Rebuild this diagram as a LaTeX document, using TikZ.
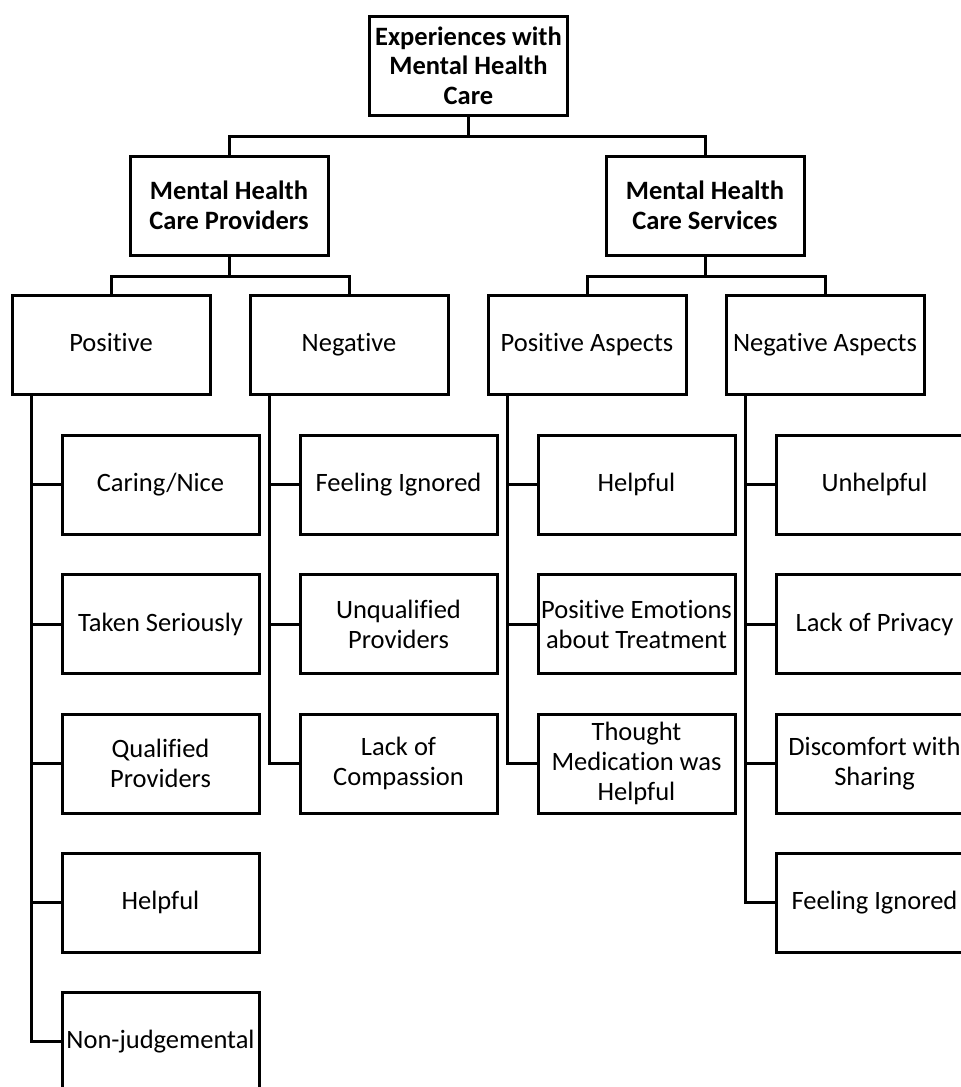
\documentclass[tikz,border=0pt]{standalone}
\usepackage{fontspec}
\setmainfont{Carlito}[Ligatures=NoCommon]
\begin{document}
\begin{tikzpicture}[x=1pt,y=-1pt,
  box/.style={draw,line width=3pt,minimum width=197pt,minimum height=99pt,align=center,inner sep=0pt,font=\fontsize{26.5}{30}\selectfont},
  one/.style={text height=19pt,text depth=5pt},
  head/.style={box,minimum width=198pt,font=\fontsize{26.5}{29.5}\selectfont\bfseries},
  link/.style={line width=3pt}]
\useasboundingbox (0,0) rectangle (961,1087);
\clip (0,0) rectangle (961,1087);
% level 1
\node[head] (top) at (468.5,65.5) {Experiences with\\Mental Health\\Care};
% level 2
\node[head] (prov) at (229,205.5) {Mental Health\\Care Providers};
\node[head] (serv) at (705,205.5) {Mental Health\\Care Services};
% level 3
\node[box,one,minimum width=198pt] (pos) at (111,344.5) {Positive};
\node[box,one,minimum width=198pt] (neg) at (349,344.5) {Negative};
\node[box,one,minimum width=198pt] (posa) at (587,344.5) {Positive Aspects};
\node[box,one,minimum width=198pt] (nega) at (825,344.5) {Negative Aspects};
% children of Positive
\node[box,one] (p1) at (160.5,484.5) {Caring/Nice};
\node[box,one] (p2) at (160.5,624) {Taken Seriously};
\node[box] (p3) at (160.5,763.5) {Qualified\\Providers};
\node[box,one] (p4) at (160.5,902.5) {Helpful};
\node[box,one] (p5) at (160.5,1041.5) {Non-judgemental};
% children of Negative
\node[box,one] (n1) at (398.5,484.5) {Feeling Ignored};
\node[box] (n2) at (398.5,624) {Unqualified\\Providers};
\node[box] (n3) at (398.5,763.5) {Lack of\\Compassion};
% children of Positive Aspects
\node[box,one] (a1) at (636.5,484.5) {Helpful};
\node[box] (a2) at (636.5,624) {Positive Emotions\\about Treatment};
\node[box] (a3) at (636.5,763.5) {Thought\\Medication was\\Helpful};
% children of Negative Aspects
\node[box,one] (b1) at (874.5,484.5) {Unhelpful};
\node[box,one] (b2) at (874.5,624) {Lack of Privacy};
\node[box] (b3) at (874.5,763.5) {Discomfort with\\Sharing};
\node[box,one] (b4) at (874.5,902.5) {Feeling Ignored};
% connectors
\draw[link] (top.south) -- ++(0,20) -| (prov.north);
\draw[link] (top.south) -- ++(0,20) -| (serv.north);
\draw[link] (prov.south) -- ++(0,20) -| (pos.north);
\draw[link] (prov.south) -- ++(0,20) -| (neg.north);
\draw[link] (serv.south) -- ++(0,20) -| (posa.north);
\draw[link] (serv.south) -- ++(0,20) -| (nega.north);
\foreach \c in {p1,p2,p3,p4,p5} \draw[link] ([xshift=21pt]pos.south west) |- (\c.west);
\foreach \c in {n1,n2,n3} \draw[link] ([xshift=21pt]neg.south west) |- (\c.west);
\foreach \c in {a1,a2,a3} \draw[link] ([xshift=21pt]posa.south west) |- (\c.west);
\foreach \c in {b1,b2,b3,b4} \draw[link] ([xshift=21pt]nega.south west) |- (\c.west);
\end{tikzpicture}
\end{document}
